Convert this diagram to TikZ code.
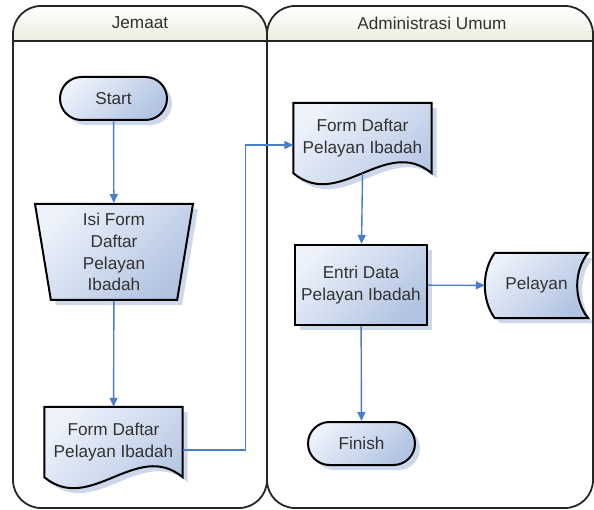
\documentclass[tikz,border=0pt]{standalone}
\usepackage{fontspec}
\setmainfont{Liberation Sans}
\usetikzlibrary{shapes.geometric,shapes.misc,shadows,backgrounds,arrows.meta}

\definecolor{nlight}{RGB}{236,241,250}
\definecolor{ndark}{RGB}{178,196,226}
\definecolor{shadowc}{RGB}{206,216,235}
\definecolor{arrc}{RGB}{74,126,200}
\definecolor{headc}{RGB}{236,236,222}
\definecolor{txtc}{RGB}{50,50,50}

\newcommand\docpath[1]{(#1.north west) -- (#1.north east) -- (#1.south east)
  .. controls +(-46,-38) and +(46,38) .. (#1.south west) -- cycle}
\newcommand\storepath[1]{([xshift=10pt]#1.north west) -- (#1.north east)
  .. controls +(-14.7,18) and +(-14.7,-18) .. (#1.south east) -- ([xshift=10pt]#1.south west)
  .. controls +(-13.3,-18) and +(-13.3,18) .. ([xshift=10pt]#1.north west) -- cycle}

\tikzset{
 lane/.style={draw=black!85, line width=1.8pt, rounded corners=28pt},
 txt/.style={text=txtc, align=center, font=\fontsize{17.2}{21.8}\selectfont},
 fillshape/.style={draw=black, line width=2pt, top color=nlight, bottom color=ndark, shading angle=45},
 box/.style={txt, fillshape, drop shadow={shadow xshift=5pt, shadow yshift=-5pt, fill=shadowc, opacity=1}},
 term/.style={box, rounded rectangle, minimum width=107pt, minimum height=43pt, inner sep=0pt},
 proc/.style={box, rectangle, minimum width=132pt, minimum height=80pt, inner sep=0pt},
 manin/.style={box, trapezium, trapezium stretches body=true, shape border rotate=180,
   trapezium left angle=78.5, trapezium right angle=78.5, minimum width=158pt, minimum height=96pt, inner sep=0pt},
 doc/.style={txt, minimum width=138pt, minimum height=70pt, inner sep=0pt},
 store/.style={txt, minimum width=103pt, minimum height=65pt, inner sep=0pt},
 arr/.style={draw=arrc, line width=1.4pt, -{Triangle[length=9pt,width=8pt]}},
}

\begin{document}
\begin{tikzpicture}[x=1pt, y=-1pt]
 \useasboundingbox (0,0) rectangle (594,510);

 \begin{scope}
  \clip[rounded corners=28pt] (13,6) rectangle (267,508);
  \shade[top color=white, bottom color=headc] (13,6) rectangle (267,41);
 \end{scope}
 \begin{scope}
  \clip[rounded corners=28pt] (267,6) rectangle (593,508);
  \shade[top color=white, bottom color=headc] (267,6) rectangle (593,41);
 \end{scope}
 \draw[lane] (13,6) rectangle (267,508);
 \draw[lane] (267,6) rectangle (593,508);
 \draw[lane] (13,41) -- (593,41);

 \node[txt] (J) at (140,23) {Jemaat};
 \node[txt] (AU) at (432,23) {Administrasi Umum};

 \node[term] (S) at (113.5,98.5) {Start};
 \node[manin] (IF) at (114,252) {Isi Form\\Daftar\\Pelayan\\Ibadah};
 \node[doc] (FL) at (113.5,442) {Form Daftar\\Pelayan Ibadah};
 \node[doc] (FR) at (362.5,138) {Form Daftar\\Pelayan Ibadah};
 \node[proc] (ED) at (361,285) {Entri Data\\Pelayan Ibadah};
 \node[store] (P) at (536.5,285.5) {Pelayan};
 \node[term] (F) at (361.5,443.5) {Finish};

 \begin{scope}[on background layer]
  \fill[shadowc, transform canvas={shift={(5pt,-5pt)}}] \docpath{FL};
  \path[fillshape] \docpath{FL};
  \fill[shadowc, transform canvas={shift={(5pt,-5pt)}}] \docpath{FR};
  \path[fillshape] \docpath{FR};
  \fill[shadowc, transform canvas={shift={(5pt,-5pt)}}] \storepath{P};
  \path[fillshape] \storepath{P};
 \end{scope}

 \draw[arr] (S) -- (IF);
 \draw[arr] (IF) -- (FL);
 \draw[arr] ([yshift=-8pt]FL.east) -- ++(63,0) |- ([yshift=-7pt]FR.west);
 \draw[arr] (FR.south) -- (ED);
 \draw[arr] (ED) -- (P);
 \draw[arr] (ED) -- (F);
\end{tikzpicture}
\end{document}
